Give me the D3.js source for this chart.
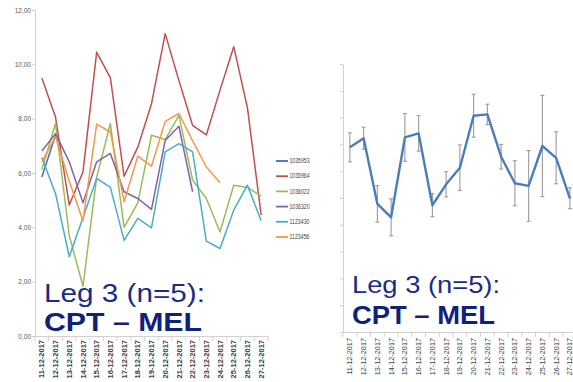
<!DOCTYPE html>
<html>
<head>
<meta charset="utf-8">
<script src="https://cdn.jsdelivr.net/npm/d3@7"></script>
<style>
  html, body { margin: 0; padding: 0; background: #fff; }
  svg { display: block; font-family: "Liberation Sans", Arial, sans-serif; }
</style>
</head>
<body>
<svg id="chart" width="573" height="382"></svg>
<script>
// Dates of leg 3
const dates = ["11-12-2017","12-12-2017","13-12-2017","14-12-2017","15-12-2017","16-12-2017",
  "17-12-2017","18-12-2017","19-12-2017","20-12-2017","21-12-2017","22-12-2017","23-12-2017",
  "24-12-2017","25-12-2017","26-12-2017","27-12-2017"];

// Individual series (left panel)
const seriesNames = ["1035953","1035964","1036022","1036320","1123430","1123456"];
const seriesColors = ["#3f6fb5","#c0504d","#9bbb59","#8064a2","#4bacc6","#f79646"];
const s1035953 = [5.85, 7.4, null, null, null, null, null, null, null, null, null, null, null, null, null, null, null];
const s1035964 = [9.5, 8.05, 4.82, 6.04, 10.45, 9.5, 5.88, 6.95, 8.55, 11.13, 9.4, 7.75, 7.4, 9.05, 10.65, 8.4, 4.45];
const s1036022 = [6.13, 7.82, 3.7, 1.83, 5.85, 7.82, 4.0, 4.9, 7.39, 7.23, 8.12, 5.74, 5.06, 3.83, 5.55, 5.47, 5.15];
const s1036320 = [6.81, 7.45, 6.41, 4.9, 6.41, 6.72, 5.31, 5.06, 4.66, 7.2, 7.72, 5.31, null, null, null, null, null];
const s1123430 = [6.57, 5.24, 2.92, 4.35, 5.8, 5.47, 3.52, 4.33, 3.98, 6.78, 7.08, 6.78, 3.49, 3.22, 4.63, 5.55, 4.24];
const s1123456 = [6.41, 7.33, 5.7, 4.24, 7.8, 7.51, 4.94, 6.62, 6.25, 7.9, 8.19, 7.18, 6.22, 5.64, null, null, null];
const leftTicks = [0, 2, 4, 6, 8, 10, 12];

// Mean with error (right panel)
const meanValues = [6.89, 7.23, 4.78, 4.28, 7.26, 7.41, 4.73, 5.51, 6.13, 8.07, 8.12, 6.54, 5.55, 5.45, 6.94, 6.5, 4.99];
const meanErrors = [0.54, 0.41, 0.68, 0.69, 0.89, 0.66, 0.43, 0.47, 0.85, 0.8, 0.38, 0.46, 0.84, 1.32, 1.89, 0.97, 0.39];
const rightTicks = [0,1,2,3,4,5,6,7,8,9,10];

const titleLine1 = "Leg 3 (n=5):";
const titleLine2 = "CPT \u2013 MEL";

const allSeries = [s1035953, s1035964, s1036022, s1036320, s1123430, s1123456];

const svg = d3.select("#chart");
const axisColor = "#d0d0d0";

// ---------- Left panel ----------
const xL = d3.scaleBand().domain(dates).range([35, 268]);
const yL = d3.scaleLinear().domain([0, 12]).range([336, 10]);

const gyL = svg.append("g").attr("transform", "translate(35,0)")
  .call(d3.axisLeft(yL).tickValues(leftTicks).tickSize(3).tickSizeOuter(0)
    .tickFormat(d => d3.format(".2f")(d).replace(".", ",")));
gyL.select(".domain").attr("stroke", axisColor);
gyL.selectAll(".tick line").attr("stroke", axisColor);
gyL.selectAll(".tick text").attr("font-size", 6.5).attr("fill", "#595959")
  .attr("font-family", "Liberation Sans Narrow, Liberation Sans, Arial").attr("x", -4);

const gxL = svg.append("g").attr("transform", "translate(0,336)")
  .call(d3.axisBottom(xL).tickSize(0).tickSizeOuter(0));
gxL.select(".domain").attr("stroke", axisColor);
gxL.selectAll(".tick text")
  .attr("transform", "rotate(-90)")
  .attr("text-anchor", "end")
  .attr("x", -4).attr("y", 0).attr("dy", "0.35em")
  .attr("font-size", 7.5).attr("font-weight", "bold").attr("fill", "#404040");
// boundary ticks between categories
svg.append("g").selectAll("line").data(dates.concat(["end"])).join("line")
  .attr("x1", (d, i) => xL.range()[0] + i * xL.bandwidth())
  .attr("x2", (d, i) => xL.range()[0] + i * xL.bandwidth())
  .attr("y1", 336).attr("y2", 341).attr("stroke", axisColor);

const lineL = d3.line()
  .defined(d => d != null)
  .x((d, i) => xL(dates[i]) + xL.bandwidth() / 2)
  .y(d => yL(d));

svg.append("g").selectAll("path").data(allSeries).join("path")
  .attr("d", d => lineL(d))
  .attr("fill", "none")
  .attr("stroke", (d, i) => seriesColors[i])
  .attr("stroke-width", 1.5)
  .attr("stroke-linejoin", "round");

// legend
const leg = svg.append("g");
seriesNames.forEach((name, i) => {
  const y = 161 + i * 15.2;
  leg.append("line").attr("x1", 276).attr("x2", 288).attr("y1", y).attr("y2", y)
    .attr("stroke", seriesColors[i]).attr("stroke-width", 1.8);
  leg.append("text").attr("x", 289.5).attr("y", y).attr("dy", "0.35em")
    .attr("font-size", 6.5).attr("fill", "#404040")
    .attr("textLength", 20).attr("lengthAdjust", "spacingAndGlyphs").text(name);
});

// ---------- Right panel ----------
const xR = d3.scaleBand().domain(dates).range([343, 343 + 17 * 13.75]);
const yR = d3.scaleLinear().domain([0, 10]).range([332, 64]);

const gyR = svg.append("g").attr("transform", "translate(343,0)")
  .call(d3.axisLeft(yR).tickValues(rightTicks).tickSize(3).tickSizeOuter(0).tickFormat(""));
gyR.select(".domain").attr("stroke", axisColor);
gyR.selectAll(".tick line").attr("stroke", axisColor);

const gxR = svg.append("g").attr("transform", "translate(0,332)")
  .call(d3.axisBottom(xR).tickSize(0).tickSizeOuter(0));
gxR.select(".domain").attr("stroke", axisColor);
gxR.selectAll(".tick text")
  .attr("transform", "rotate(-90)")
  .attr("text-anchor", "end")
  .attr("x", -6).attr("y", 0).attr("dy", "0.35em")
  .attr("font-size", 7.3).attr("fill", "#404040");
svg.append("g").selectAll("line").data(dates.concat(["end"])).join("line")
  .attr("x1", (d, i) => xR.range()[0] + i * xR.bandwidth())
  .attr("x2", (d, i) => xR.range()[0] + i * xR.bandwidth())
  .attr("y1", 332).attr("y2", 337).attr("stroke", axisColor);

// error bars
const eb = svg.append("g").attr("stroke", "#9a9a9a").attr("stroke-width", 1.1);
meanValues.forEach((m, i) => {
  const cx = xR(dates[i]) + xR.bandwidth() / 2;
  const top = yR(m + meanErrors[i]), bot = yR(m - meanErrors[i]);
  eb.append("line").attr("x1", cx).attr("x2", cx).attr("y1", top).attr("y2", bot);
  eb.append("line").attr("x1", cx - 2).attr("x2", cx + 2).attr("y1", top).attr("y2", top);
  eb.append("line").attr("x1", cx - 2).attr("x2", cx + 2).attr("y1", bot).attr("y2", bot);
});

const lineR = d3.line()
  .x((d, i) => xR(dates[i]) + xR.bandwidth() / 2)
  .y(d => yR(d));
svg.append("path").attr("d", lineR(meanValues))
  .attr("fill", "none").attr("stroke", "#4a7ebb").attr("stroke-width", 2.4)
  .attr("stroke-linejoin", "round");

// ---------- Titles ----------
function title(x, y1, y2, size1, size2, len1, len2) {
  svg.append("text").attr("x", x).attr("y", y1).attr("font-size", size1)
    .attr("fill", "#1c2b86").attr("textLength", len1).attr("lengthAdjust", "spacingAndGlyphs")
    .text(titleLine1);
  svg.append("text").attr("x", x).attr("y", y2).attr("font-size", size2).attr("font-weight", "bold")
    .attr("fill", "#10217a").attr("textLength", len2).attr("lengthAdjust", "spacingAndGlyphs")
    .text(titleLine2);
}
title(44, 302, 331, 26, 25, 161, 158);
title(352, 293, 324, 24, 25, 148, 143);
</script>
</body>
</html>
